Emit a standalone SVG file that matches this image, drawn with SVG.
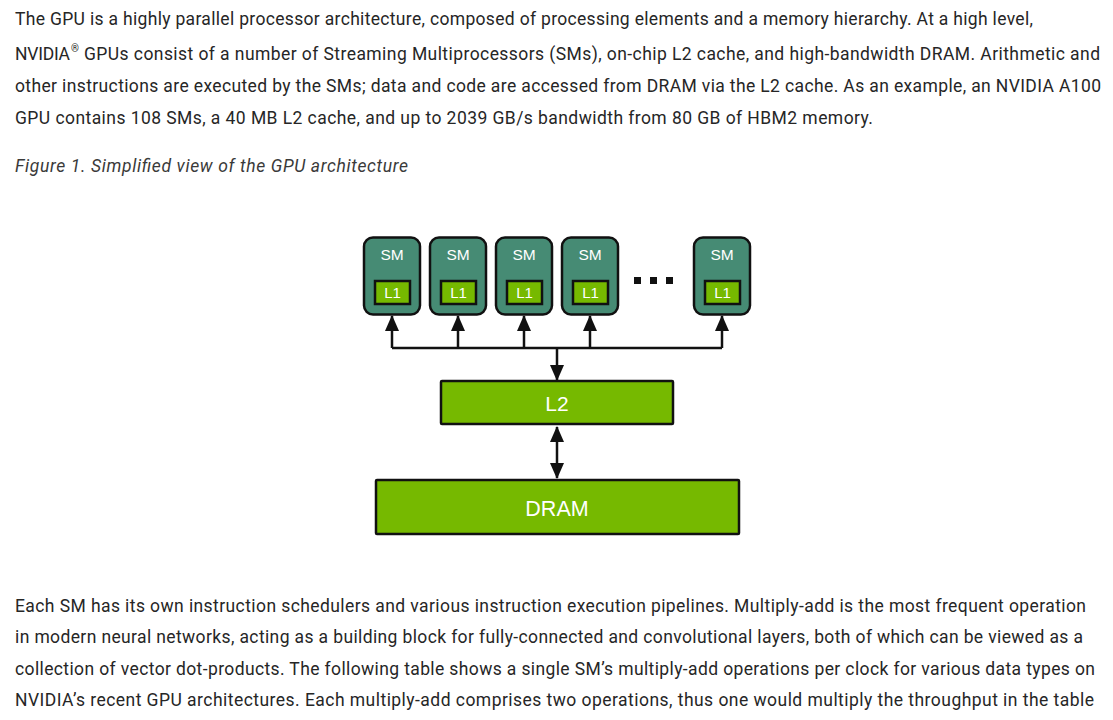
<svg xmlns="http://www.w3.org/2000/svg" width="1113" height="720" viewBox="0 0 1113 720">
  <style>
    .body { font-family: Roboto, "Liberation Sans", Arial, sans-serif; font-size: 17.5px; fill: #262626; }
    .cap { font-family: Roboto, "Liberation Sans", Arial, sans-serif; font-size: 17.5px; font-style: italic; fill: #3a3a3a; }
    .sm { fill: #468B74; stroke: #111; stroke-width: 2.5; }
    .green { fill: #76B900; stroke: #111; stroke-width: 2.5; }
    .lbl { font-family: "Liberation Sans", Arial, sans-serif; fill: #fff; text-anchor: middle; }
    .wire { fill: none; stroke: #111; stroke-width: 2.5; }
  </style>
  <defs>
    <marker id="ah" markerUnits="userSpaceOnUse" markerWidth="16" markerHeight="14" viewBox="0 0 16 14" refX="15" refY="7" orient="auto-start-reverse">
      <path d="M0,0 L16,7 L0,14 z" fill="#111"/>
    </marker>
  </defs>
  <rect width="1113" height="720" fill="#fff"/>

  <g id="text-top">
    <text class="body" x="15" y="25" textLength="1018" lengthAdjust="spacing">The GPU is a highly parallel processor architecture, composed of processing elements and a memory hierarchy. At a high level,</text>
    <text class="body" x="15" y="60" textLength="55" lengthAdjust="spacing">NVIDIA</text>
    <text class="body" x="71" y="52" style="font-size:10px">®</text>
    <text class="body" x="84" y="60" textLength="1016" lengthAdjust="spacing">GPUs consist of a number of Streaming Multiprocessors (SMs), on-chip L2 cache, and high-bandwidth DRAM. Arithmetic and</text>
    <text class="body" x="15" y="92" textLength="1086" lengthAdjust="spacing">other instructions are executed by the SMs; data and code are accessed from DRAM via the L2 cache. As an example, an NVIDIA A100</text>
    <text class="body" x="15" y="124" textLength="858" lengthAdjust="spacing">GPU contains 108 SMs, a 40 MB L2 cache, and up to 2039 GB/s bandwidth from 80 GB of HBM2 memory.</text>
    <text class="cap" x="15" y="172" textLength="393" lengthAdjust="spacing">Figure 1. Simplified view of the GPU architecture</text>
  </g>

  <g id="connectors">
    <path class="wire" d="M392,348 H722"/>
    <path class="wire" d="M392,348 V316" marker-end="url(#ah)"/>
    <path class="wire" d="M458,348 V316" marker-end="url(#ah)"/>
    <path class="wire" d="M524,348 V316" marker-end="url(#ah)"/>
    <path class="wire" d="M590,348 V316" marker-end="url(#ah)"/>
    <path class="wire" d="M722,348 V316" marker-end="url(#ah)"/>
    <path class="wire" d="M557,348 V380" marker-end="url(#ah)"/>
    <path class="wire" d="M557,427 V478" marker-start="url(#ah)" marker-end="url(#ah)"/>
  </g>

  <g id="sm1">
    <rect class="sm" x="364" y="237.5" width="56" height="77" rx="9"/>
    <text class="lbl" x="392" y="260" font-size="15.5">SM</text>
    <rect class="green" x="375" y="281" width="35" height="23"/>
    <text class="lbl" x="392.5" y="297.5" font-size="15">L1</text>
  </g>
  <g id="sm2">
    <rect class="sm" x="430" y="237.5" width="56" height="77" rx="9"/>
    <text class="lbl" x="458" y="260" font-size="15.5">SM</text>
    <rect class="green" x="441" y="281" width="35" height="23"/>
    <text class="lbl" x="458.5" y="297.5" font-size="15">L1</text>
  </g>
  <g id="sm3">
    <rect class="sm" x="496" y="237.5" width="56" height="77" rx="9"/>
    <text class="lbl" x="524" y="260" font-size="15.5">SM</text>
    <rect class="green" x="507" y="281" width="35" height="23"/>
    <text class="lbl" x="524.5" y="297.5" font-size="15">L1</text>
  </g>
  <g id="sm4">
    <rect class="sm" x="562" y="237.5" width="56" height="77" rx="9"/>
    <text class="lbl" x="590" y="260" font-size="15.5">SM</text>
    <rect class="green" x="573" y="281" width="35" height="23"/>
    <text class="lbl" x="590.5" y="297.5" font-size="15">L1</text>
  </g>
  <g id="ellipsis" fill="#111">
    <rect x="634" y="277" width="7" height="7"/>
    <rect x="650" y="277" width="7" height="7"/>
    <rect x="666" y="277" width="7" height="7"/>
  </g>
  <g id="sm5">
    <rect class="sm" x="694" y="237.5" width="56" height="77" rx="9"/>
    <text class="lbl" x="722" y="260" font-size="15.5">SM</text>
    <rect class="green" x="705" y="281" width="35" height="23"/>
    <text class="lbl" x="722.5" y="297.5" font-size="15">L1</text>
  </g>

  <g id="l2">
    <rect class="green" x="441" y="381" width="232" height="43" rx="1"/>
    <text class="lbl" x="557" y="411" font-size="21">L2</text>
  </g>
  <g id="dram">
    <rect class="green" x="376" y="480" width="363" height="54" rx="1"/>
    <text class="lbl" x="557" y="516" font-size="21.5">DRAM</text>
  </g>

  <g id="text-bottom">
    <text class="body" x="15" y="612" textLength="1071" lengthAdjust="spacing">Each SM has its own instruction schedulers and various instruction execution pipelines. Multiply-add is the most frequent operation</text>
    <text class="body" x="15" y="643" textLength="1068" lengthAdjust="spacing">in modern neural networks, acting as a building block for fully-connected and convolutional layers, both of which can be viewed as a</text>
    <text class="body" x="15" y="675" textLength="1080" lengthAdjust="spacing">collection of vector dot-products. The following table shows a single SM’s multiply-add operations per clock for various data types on</text>
    <text class="body" x="15" y="706" textLength="1079" lengthAdjust="spacing">NVIDIA’s recent GPU architectures. Each multiply-add comprises two operations, thus one would multiply the throughput in the table</text>
  </g>
</svg>
